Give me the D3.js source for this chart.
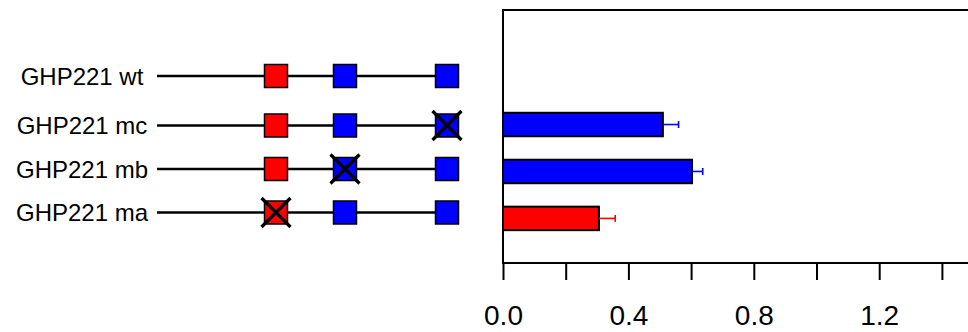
<!DOCTYPE html>
<html><head><meta charset="utf-8">
<script src="https://cdn.jsdelivr.net/npm/d3@7"></script>
<style>body{margin:0;background:#fff}svg{display:block}text{font-family:"Liberation Sans",Arial,Helvetica,sans-serif}</style>
</head><body>
<script>
// constructs (top to bottom)
const constructs = ["GHP221 wt","GHP221 mc","GHP221 mb","GHP221 ma"];
// element positions along the construct (arbitrary units) and colours
const elementPos = [119, 188, 290];
const elementColor = ["#ff0000","#0000ff","#0000ff"];
// index of mutated element for each construct (-1 = none)
const mutated = [-1, 2, 1, 0];
// bar values and errors (wt not shown)
const barLabels = ["GHP221 mc","GHP221 mb","GHP221 ma"];
const barValues = [0.51, 0.603, 0.306];
const barErrors = [0.05, 0.034, 0.052];
const barColors = ["#0000ff","#0000ff","#ff0000"];
const xTicks = [0,0.2,0.4,0.6,0.8,1.0,1.2,1.4];
const xTickLabels = ["0.0","","0.4","","0.8","","1.2",""];

const W=968,H=332;
const svg=d3.select("body").append("svg").attr("width",W).attr("height",H);

// ---- left panel ----
const rowY = [76,125.5,169,212.5];
const px = d3.scaleLinear().domain([0,301]).range([157,458]);
const sq = 23;
const g = svg.append("g");
constructs.forEach((c,i)=>{
  const y=rowY[i];
  g.append("text").attr("x",82).attr("y",y).attr("dy","0.36em").attr("text-anchor","middle")
    .attr("font-size",24).text(c);
  g.append("line").attr("x1",px(0)).attr("x2",px(elementPos[2])).attr("y1",y).attr("y2",y)
    .attr("stroke","#000").attr("stroke-width",2.5);
  elementPos.forEach((p,j)=>{
    g.append("rect").attr("x",px(p)-sq/2).attr("y",y-sq/2).attr("width",sq).attr("height",sq)
      .attr("fill",elementColor[j]).attr("stroke","#000").attr("stroke-width",1.5);
    if(mutated[i]===j){
      const h=14.5;
      g.append("path").attr("d",`M${px(p)-h},${y-h}L${px(p)+h},${y+h}M${px(p)+h},${y-h}L${px(p)-h},${y+h}`)
        .attr("stroke","#000").attr("stroke-width",3.2).attr("fill","none");
    }
  });
});

// ---- right panel ----
const x = d3.scaleLinear().domain([0,1]).range([503,816.5]);
const y = d3.scaleLinear().domain([-0.95,4.44]).range([263,10]);
const barH = 23.5;
const r = svg.append("g");
barLabels.forEach((b,i)=>{
  const yc = y(2-i);
  r.append("rect").attr("x",x(0)).attr("y",yc-barH/2).attr("width",x(barValues[i])-x(0)).attr("height",barH)
    .attr("fill",barColors[i]).attr("stroke","#000").attr("stroke-width",2);
  const xe = x(barValues[i]+barErrors[i]);
  r.append("line").attr("x1",x(barValues[i])).attr("x2",xe).attr("y1",yc).attr("y2",yc)
    .attr("stroke",barColors[i]).attr("stroke-width",1.6);
  r.append("line").attr("x1",xe).attr("x2",xe).attr("y1",yc-3.5).attr("y2",yc+3.5)
    .attr("stroke",barColors[i]).attr("stroke-width",1.6);
});
// frame: left, top
r.append("path").attr("d",`M${W+2},10H503V263H${W+2}`).attr("fill","none").attr("stroke","#000").attr("stroke-width",2);
// x axis ticks
const ax = r.append("g").attr("transform","translate(0,263)")
  .call(d3.axisBottom(x).tickValues(xTicks).tickFormat((d,i)=>xTickLabels[i]).tickSize(17).tickPadding(0));
ax.select(".domain").remove();
ax.selectAll(".tick line").attr("stroke","#000").attr("stroke-width",2);
ax.selectAll(".tick text").attr("font-size",28).attr("font-family",'"Liberation Sans",Arial,Helvetica,sans-serif')
  .attr("fill","#000").attr("dy",null).attr("y",62);
</script>
</body></html>
